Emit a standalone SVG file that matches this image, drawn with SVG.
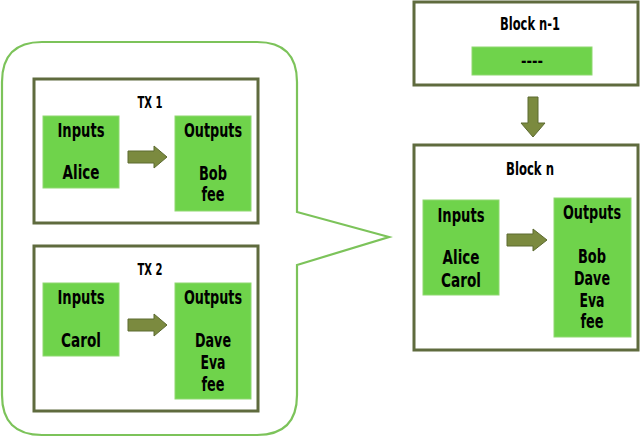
<svg xmlns="http://www.w3.org/2000/svg" width="640" height="437" viewBox="0 0 640 437">
<style>
.bubble{fill:#fff;stroke:#7cc35a;stroke-width:2.2}
.frame{fill:#fff;stroke:#5f6b3e;stroke-width:3}
.g{fill:#6fd34b;stroke:#8fd870;stroke-width:1}
.arr{fill:#7b8a3f;stroke:#5c6a30;stroke-width:1}
text{font-family:"Liberation Sans Narrow","DejaVu Sans Condensed","Liberation Sans",sans-serif;font-weight:bold;fill:#000;text-anchor:middle}
.t{font-size:19px}
.h{font-size:15px}
.hb{font-size:18px}
</style>
<rect width="640" height="437" fill="#fff"/>
<g id="callout">
<path class="bubble" d="M42,42 H257 Q297,42 297,82 V212 L389,237 L297,265 V395 Q297,435 257,435 H42 Q2,435 2,395 V82 Q2,42 42,42 Z"/>
</g>
<g id="tx1">
<rect class="frame" x="34" y="79" width="224" height="144"/>
<text class="h" x="150" y="108" textLength="25" lengthAdjust="spacingAndGlyphs">TX 1</text>
</g>
<g id="tx1-inputs">
<rect class="g" x="43" y="116" width="76" height="72"/>
<text class="t" x="81" y="137" textLength="47" lengthAdjust="spacingAndGlyphs">Inputs</text>
<text class="t" x="81" y="179" textLength="37" lengthAdjust="spacingAndGlyphs">Alice</text>
</g>
<g id="tx1-outputs">
<rect class="g" x="175" y="116" width="76" height="95"/>
<text class="t" x="213" y="137" textLength="58" lengthAdjust="spacingAndGlyphs">Outputs</text>
<text class="t" x="213" y="180" textLength="28" lengthAdjust="spacingAndGlyphs">Bob</text>
<text class="t" x="213" y="201" textLength="23" lengthAdjust="spacingAndGlyphs">fee</text>
</g>
<g id="tx2">
<rect class="frame" x="34" y="246" width="224" height="165"/>
<text class="h" x="150" y="275" textLength="25" lengthAdjust="spacingAndGlyphs">TX 2</text>
</g>
<g id="tx2-inputs">
<rect class="g" x="43" y="283" width="76" height="73"/>
<text class="t" x="81" y="304" textLength="47" lengthAdjust="spacingAndGlyphs">Inputs</text>
<text class="t" x="81" y="347" textLength="40" lengthAdjust="spacingAndGlyphs">Carol</text>
</g>
<g id="tx2-outputs">
<rect class="g" x="175" y="283" width="76" height="116"/>
<text class="t" x="213" y="304" textLength="58" lengthAdjust="spacingAndGlyphs">Outputs</text>
<text class="t" x="213" y="347" textLength="36" lengthAdjust="spacingAndGlyphs">Dave</text>
<text class="t" x="213" y="369" textLength="25" lengthAdjust="spacingAndGlyphs">Eva</text>
<text class="t" x="213" y="391" textLength="23" lengthAdjust="spacingAndGlyphs">fee</text>
</g>
<g id="block-n-1">
<rect class="frame" x="414" y="2" width="224" height="83"/>
<text class="hb" x="530" y="30" textLength="60" lengthAdjust="spacingAndGlyphs">Block n-1</text>
<rect class="g" x="472" y="47" width="120" height="28"/>
<text class="h" x="532" y="66" textLength="22" lengthAdjust="spacingAndGlyphs">----</text>
</g>
<g id="block-n">
<rect class="frame" x="414" y="145" width="224" height="205"/>
<text class="hb" x="530" y="175" textLength="48" lengthAdjust="spacingAndGlyphs">Block n</text>
</g>
<g id="blockn-inputs">
<rect class="g" x="423" y="200" width="76" height="95"/>
<text class="t" x="461" y="222" textLength="47" lengthAdjust="spacingAndGlyphs">Inputs</text>
<text class="t" x="461" y="264" textLength="37" lengthAdjust="spacingAndGlyphs">Alice</text>
<text class="t" x="461" y="287" textLength="40" lengthAdjust="spacingAndGlyphs">Carol</text>
</g>
<g id="blockn-outputs">
<rect class="g" x="554" y="198" width="77" height="139"/>
<text class="t" x="592" y="219" textLength="58" lengthAdjust="spacingAndGlyphs">Outputs</text>
<text class="t" x="592" y="263" textLength="28" lengthAdjust="spacingAndGlyphs">Bob</text>
<text class="t" x="592" y="285" textLength="36" lengthAdjust="spacingAndGlyphs">Dave</text>
<text class="t" x="592" y="307" textLength="25" lengthAdjust="spacingAndGlyphs">Eva</text>
<text class="t" x="592" y="328" textLength="23" lengthAdjust="spacingAndGlyphs">fee</text>
</g>
<g id="connectors">
<path class="arr" d="M128,151 H154 V146 L167,157 L154,168 V163 H128 Z"/>
<path class="arr" d="M128,319 H154 V314 L167,325 L154,336 V331 H128 Z"/>
<path class="arr" d="M507,234 H533 V229 L547,240 L533,251 V246 H507 Z"/>
<path class="arr" d="M528,97 H538 V123 H545 L533,137 L521,123 H528 Z"/>
</g>
</svg>
